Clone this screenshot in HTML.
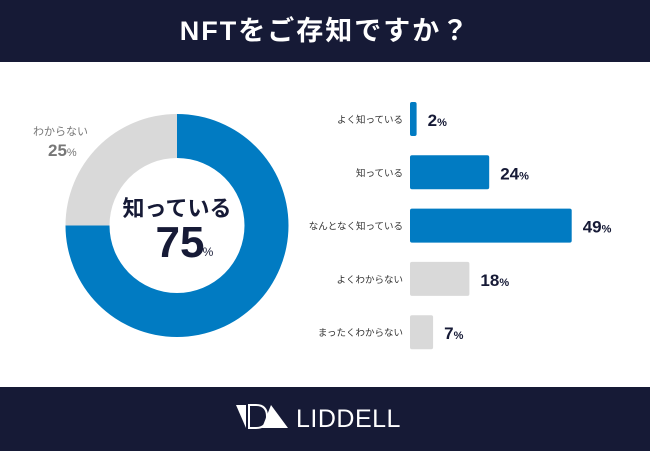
<!DOCTYPE html>
<html><head><meta charset="utf-8"><style>
body{margin:0;width:650px;height:451px;overflow:hidden;background:#fff;font-family:"Liberation Sans","Noto Sans CJK JP",sans-serif;}
.hdr{position:absolute;left:0;top:0;width:650px;height:62px;background:#161a36;color:#fff;font-weight:bold;font-size:27px;text-align:center;line-height:62px;letter-spacing:2px}
.ftr{position:absolute;left:0;top:387px;width:650px;height:64px;background:#161a36}
</style></head><body>
<div class="hdr">NFTをご存知ですか？</div>
<svg id="chart" width="650" height="451" style="position:absolute;left:0;top:0"></svg>
<div class="ftr">
<svg width="650" height="64">
<polygon points="236,18 246,18 246,41" fill="#fff"/>
<path d="M249,18 L256,18 Q267,18 267,29.5 Q267,41 256,41 L249,41 Z" fill="none" stroke="#fff" stroke-width="2"/>
<polygon points="262,41 271,18 288,41" fill="#fff"/>
<text x="296" y="40" fill="#fff" font-size="25" font-family="Liberation Sans, sans-serif" letter-spacing="0.5">LIDDELL</text>
</svg></div>
<script>
const donutLabels=["知っている","わからない"];
const donutValues=[75,25];
const barCategories=["よく知っている","知っている","なんとなく知っている","よくわからない","まったくわからない"];
const barValues=[2,24,49,18,7];
const barColors=["#017bc2","#017bc2","#017bc2","#d9d9d9","#d9d9d9"];
const NS="http://www.w3.org/2000/svg";
const svg=document.getElementById("chart");
function mk(t,a){const e=document.createElementNS(NS,t);for(const k in a)e.setAttribute(k,a[k]);svg.appendChild(e);return e;}
const cx=177,cy=225.5,R=111.5,r=67.5;
const total=donutValues.reduce((a,b)=>a+b,0);
let ang=0;
const dColors=["#017bc2","#d9d9d9"];
donutValues.forEach((v,i)=>{
 const a0=ang,a1=ang+v/total*2*Math.PI;ang=a1;
 const p=(rad,a)=>[cx+rad*Math.sin(a),cy-rad*Math.cos(a)];
 const large=(a1-a0)>Math.PI?1:0;
 const [x0,y0]=p(R,a0),[x1,y1]=p(R,a1),[x2,y2]=p(r,a1),[x3,y3]=p(r,a0);
 const e=mk("path",{d:`M${x0},${y0} A${R},${R} 0 ${large} 1 ${x1},${y1} L${x2},${y2} A${r},${r} 0 ${large} 0 ${x3},${y3} Z`,fill:dColors[i]});
 
 
});
let t=mk("text",{x:cx,y:216,"text-anchor":"middle","font-size":"22","font-weight":"bold",fill:"#161a36"});t.textContent=donutLabels[0];


t=mk("text",{x:cx+3,y:257,"text-anchor":"middle","font-size":"44","font-weight":"bold",fill:"#161a36"});t.textContent=donutValues[0];


t=mk("text",{x:cx+31,y:256,"text-anchor":"middle","font-size":"12",fill:"#161a36"});t.textContent="%";


t=mk("text",{x:33,y:135,"font-size":"11",fill:"#777"});t.textContent=donutLabels[1];


t=mk("text",{x:48,y:156,"font-size":"17","font-weight":"bold",fill:"#777"});t.innerHTML=donutValues[1]+'<tspan font-size="11" font-weight="normal">%</tspan>';


const x0=410,scale=3.3,yTop=102,pitch=53.3,bh=34;
barCategories.forEach((c,i)=>{
 const y=yTop+i*pitch,w=barValues[i]*scale;
 const b=mk("rect",{x:x0,y:y,width:w,height:bh,rx:2,fill:barColors[i]});
 
 
 const l=mk("text",{x:403,y:y+bh/2+4,"text-anchor":"end","font-size":"9.5",fill:"#333"});l.textContent=c;
 
 
 const v=mk("text",{x:x0+w+11,y:y+bh/2+7,"font-size":"17","font-weight":"bold",fill:"#161a36"});v.innerHTML=barValues[i]+'<tspan font-size="11">%</tspan>';
 
 
});
</script>
</body></html>
